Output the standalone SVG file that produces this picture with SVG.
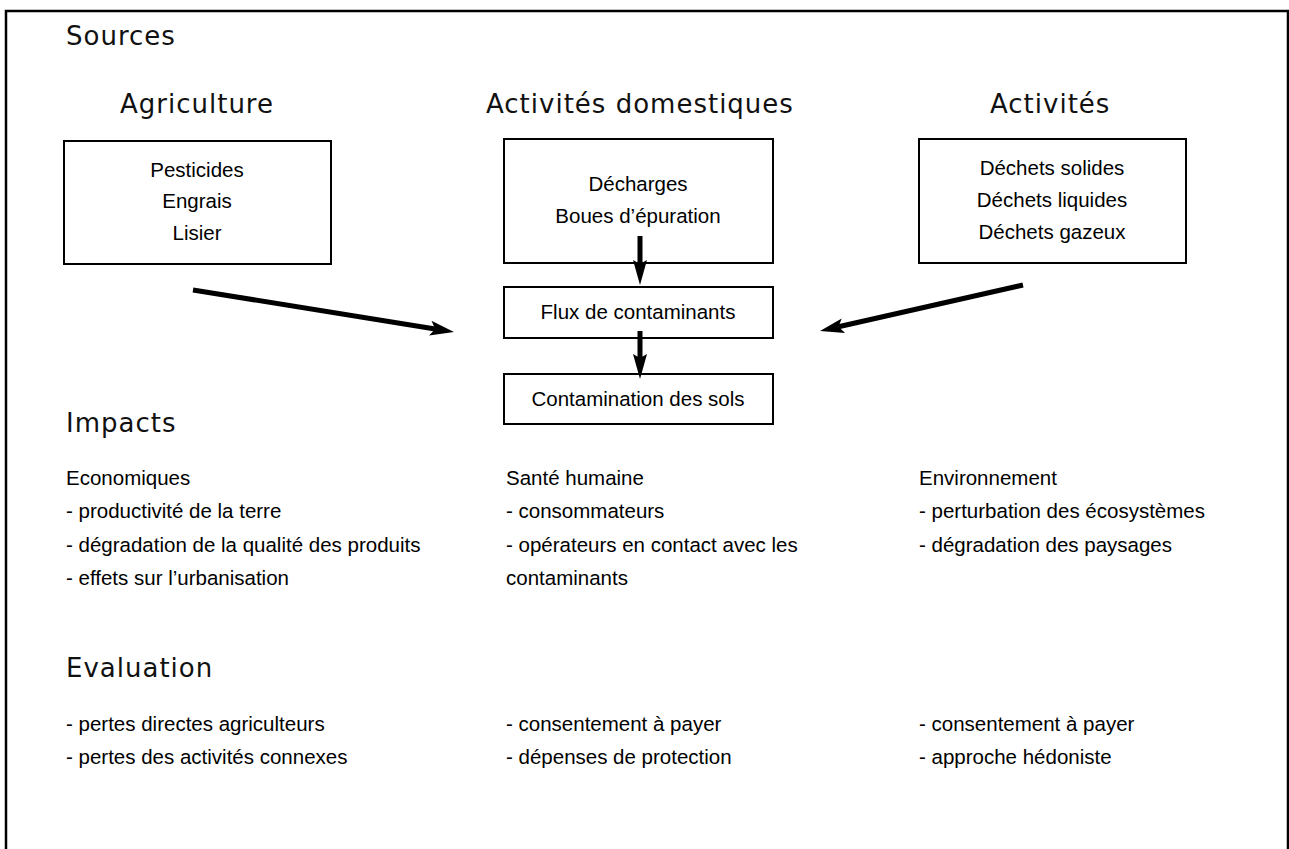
<svg xmlns="http://www.w3.org/2000/svg" width="1289" height="849" viewBox="0 0 1289 849">
<style>
.h{font-family:"DejaVu Sans",sans-serif;font-size:26px;letter-spacing:1px;fill:#111}
.t{font-family:"Liberation Sans",Arial,sans-serif;font-size:20.5px;fill:#000}
.c{text-anchor:middle}
.box{fill:#fff;stroke:#000;stroke-width:2}
.arr{stroke:#000;stroke-width:5;fill:none}
.head{fill:#000;stroke:none}
</style>
<rect width="1289" height="849" fill="#fff"/>
<g id="frame" fill="none" stroke="#000">
<path d="M6,849 V11 H1288 V849" stroke-width="2.5"/>
</g>
<text class="h" x="66" y="45">Sources</text>
<text class="h" x="120" y="113">Agriculture</text>
<text class="h" x="486" y="113">Activités domestiques</text>
<text class="h" x="990" y="113">Activités</text>
<g id="agri">
<rect class="box" x="64" y="141" width="267" height="123"/>
<text class="t c" x="197" y="177">Pesticides</text>
<text class="t c" x="197" y="208">Engrais</text>
<text class="t c" x="197" y="240">Lisier</text>
</g>
<g id="dom">
<rect class="box" x="504" y="139" width="269" height="124"/>
<text class="t c" x="638" y="191">Décharges</text>
<text class="t c" x="638" y="223">Boues d’épuration</text>
</g>
<g id="act">
<rect class="box" x="919" y="139" width="267" height="124"/>
<text class="t c" x="1052" y="175">Déchets solides</text>
<text class="t c" x="1052" y="207">Déchets liquides</text>
<text class="t c" x="1052" y="239">Déchets gazeux</text>
</g>
<g id="flux">
<rect class="box" x="504" y="287" width="269" height="51"/>
<text class="t c" x="638" y="319">Flux de contaminants</text>
</g>
<g id="sol">
<rect class="box" x="504" y="374" width="269" height="50"/>
<text class="t c" x="638" y="406">Contamination des sols</text>
</g>
<g id="connectors">
<line class="arr" x1="640" y1="236" x2="640" y2="265"/>
<polygon class="head" points="640,285 633,260 640,264 647,260"/>
<line class="arr" x1="640" y1="331" x2="640" y2="358"/>
<polygon class="head" points="640,379 633,354 640,358 647,354"/>
<line class="arr" x1="193" y1="290" x2="435.2" y2="329"/>
<polygon class="head" points="454,332 429.1,335.6 435.2,329 431.5,320.8"/>
<line class="arr" x1="1023" y1="285" x2="838.5" y2="326.8"/>
<polygon class="head" points="820,331 841.7,318.4 838.5,326.8 845.1,333"/>
</g>
<text class="h" x="66" y="432">Impacts</text>
<g id="eco">
<text class="t" x="66" y="485">Economiques</text>
<text class="t" x="66" y="518">- productivité de la terre</text>
<text class="t" x="66" y="552">- dégradation de la qualité des produits</text>
<text class="t" x="66" y="585">- effets sur l’urbanisation</text>
</g>
<g id="sante">
<text class="t" x="506" y="485">Santé humaine</text>
<text class="t" x="506" y="518">- consommateurs</text>
<text class="t" x="506" y="552">- opérateurs en contact avec les</text>
<text class="t" x="506" y="585">contaminants</text>
</g>
<g id="env">
<text class="t" x="919" y="485">Environnement</text>
<text class="t" x="919" y="518">- perturbation des écosystèmes</text>
<text class="t" x="919" y="552">- dégradation des paysages</text>
</g>
<text class="h" x="66" y="677">Evaluation</text>
<g id="eval1">
<text class="t" x="66" y="731">- pertes directes agriculteurs</text>
<text class="t" x="66" y="764">- pertes des activités connexes</text>
</g>
<g id="eval2">
<text class="t" x="506" y="731">- consentement à payer</text>
<text class="t" x="506" y="764">- dépenses de protection</text>
</g>
<g id="eval3">
<text class="t" x="919" y="731">- consentement à payer</text>
<text class="t" x="919" y="764">- approche hédoniste</text>
</g>
</svg>
